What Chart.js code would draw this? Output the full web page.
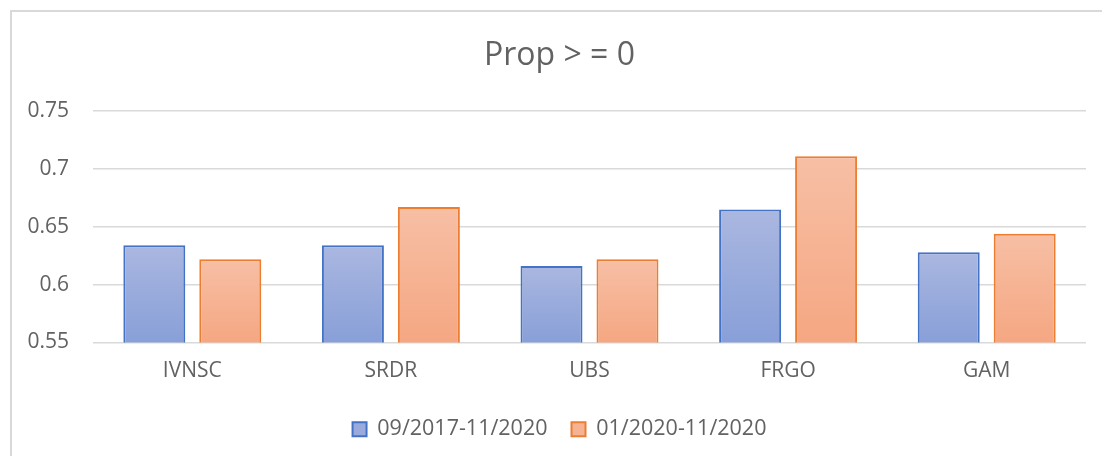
<!DOCTYPE html>
<html>
<head>
<meta charset="utf-8">
<script src="https://cdn.jsdelivr.net/npm/chart.js@4/dist/chart.umd.min.js"></script>
<style>
  html, body { margin: 0; padding: 0; background: #fff; }
  #wrap { position: relative; width: 1102px; height: 456px; }
  canvas { display: block; }
</style>
</head>
<body>
<div id="wrap"><canvas id="c" width="1102" height="456"></canvas></div>
<script>
const categories = ["IVNSC", "SRDR", "UBS", "FRGO", "GAM"];
const seriesNames = ["09/2017-11/2020", "01/2020-11/2020"];
const series1 = [0.634, 0.634, 0.616, 0.665, 0.628];
const series2 = [0.622, 0.667, 0.622, 0.711, 0.644];
const yMin = 0.55, yMax = 0.75, yStep = 0.05;
const chartTitle = "Prop > = 0";

const FONT = "'Open Sans', 'Liberation Sans', sans-serif";
const TEXT = "#626262";

function barGradient(top, bottom) {
  return function (ctx) {
    const chart = ctx.chart;
    const y = chart.scales && chart.scales.y;
    if (!y || ctx.raw === undefined || !isFinite(y.top)) return bottom;
    const yTop = y.getPixelForValue(ctx.raw);
    const yBase = y.getPixelForValue(yMin);
    if (!isFinite(yTop) || !isFinite(yBase) || yTop === yBase) return bottom;
    const g = chart.ctx.createLinearGradient(0, yTop, 0, yBase);
    g.addColorStop(0, top);
    g.addColorStop(1, bottom);
    return g;
  };
}

const frame = {
  id: 'frame',
  beforeDraw(chart) {
    const c = chart.ctx;
    c.save();
    c.fillStyle = '#fff';
    c.fillRect(0, 0, chart.width, chart.height);
    c.strokeStyle = '#d9d9d9';
    c.lineWidth = 2;
    c.beginPath();
    c.moveTo(11, chart.height);
    c.lineTo(11, 11);
    c.lineTo(chart.width, 11);
    c.stroke();
    c.restore();
  }
};

new Chart(document.getElementById('c'), {
  type: 'bar',
  data: {
    labels: categories,
    datasets: [
      {
        label: seriesNames[0],
        data: series1,
        backgroundColor: barGradient('#aab7e0', '#889fd8'),
        borderColor: '#4472c4',
        borderWidth: 2,
        borderSkipped: false,
        categoryPercentage: 0.765,
        barPercentage: 0.816
      },
      {
        label: seriesNames[1],
        data: series2,
        backgroundColor: barGradient('#f7bfa5', '#f5a782'),
        borderColor: '#ed7d31',
        borderWidth: 2,
        borderSkipped: false,
        categoryPercentage: 0.765,
        barPercentage: 0.816
      }
    ]
  },
  options: {
    responsive: false,
    animation: false,
    devicePixelRatio: 1,
    layout: { padding: { left: 17, right: 0, top: 0, bottom: 6 } },
    plugins: {
      title: {
        display: true,
        text: chartTitle,
        color: TEXT,
        font: { family: FONT, size: 32, weight: 'normal', lineHeight: 1.2 },
        padding: { top: 37, bottom: 35.6 }
      },
      legend: {
        position: 'bottom',
        labels: {
          color: TEXT,
          font: { family: FONT, size: 21.5 },
          boxWidth: 14,
          boxHeight: 14,
          padding: 24,
          generateLabels(chart) {
            return chart.data.datasets.map((ds, i) => ({
              text: ds.label,
              fillStyle: i === 0 ? '#9aaadc' : '#f6b393',
              strokeStyle: ds.borderColor,
              lineWidth: 2,
              hidden: false,
              datasetIndex: i,
              fontColor: TEXT
            }));
          }
        }
      },
      tooltip: { enabled: false }
    },
    scales: {
      x: {
        grid: { display: false, drawTicks: false },
        border: { display: false },
        ticks: { color: TEXT, font: { family: FONT, size: 21 }, padding: 16 },
        afterFit(scale) { scale.height = 52; }
      },
      y: {
        min: yMin,
        max: yMax,
        grid: { color: '#d9d9d9', lineWidth: 1.5, drawTicks: false },
        border: { display: false },
        ticks: {
          stepSize: yStep,
          color: TEXT,
          font: { family: FONT, size: 21 },
          padding: 24,
          callback: (v) => String(Math.round(v * 100) / 100)
        },
        afterFit(scale) { scale.width = 76; }
      },
      yRight: {
        position: 'right',
        display: true,
        grid: { display: false, drawTicks: false },
        border: { display: false },
        ticks: { display: false },
        afterFit(scale) { scale.width = 16; }
      }
    }
  },
  plugins: [frame]
});
</script>
</body>
</html>
